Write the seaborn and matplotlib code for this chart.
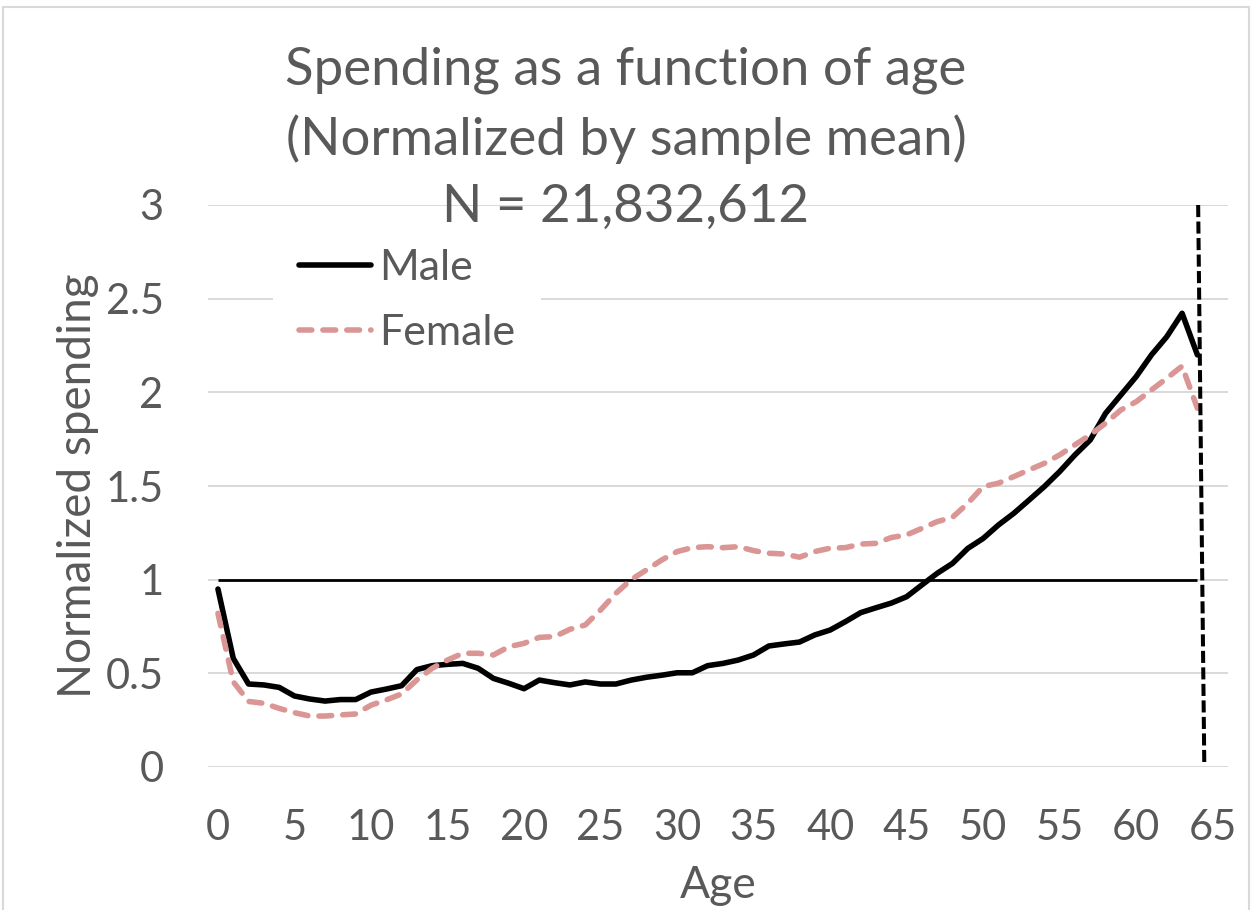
"""
Spending as a function of age, male vs female, normalized by sample mean.
Writes: out.png
"""
import matplotlib.lines as mlines
import matplotlib.pyplot as plt
import pandas as pd
import seaborn as sns
from matplotlib.patches import Rectangle

AGES = list(range(65))
MALE = [0.95, 0.58, 0.443, 0.438, 0.425, 0.379, 0.363, 0.352, 0.36, 0.36,
        0.40, 0.416, 0.434, 0.52, 0.541, 0.548, 0.553, 0.527, 0.473, 0.447,
        0.418, 0.464, 0.45, 0.438, 0.454, 0.443, 0.443, 0.464, 0.479, 0.49,
        0.503, 0.503, 0.541, 0.553, 0.571, 0.598, 0.646, 0.657, 0.667, 0.705,
        0.731, 0.776, 0.824, 0.85, 0.875, 0.909, 0.972, 1.034, 1.087, 1.167,
        1.22, 1.292, 1.354, 1.425, 1.497, 1.577, 1.666, 1.746, 1.888, 1.986,
        2.084, 2.2, 2.297, 2.422, 2.2]
FEMALE = [0.82, 0.455, 0.35, 0.34, 0.313, 0.29, 0.272, 0.272, 0.278, 0.283,
          0.33, 0.358, 0.39, 0.465, 0.527, 0.571, 0.607, 0.607, 0.598, 0.642,
          0.66, 0.692, 0.696, 0.735, 0.758, 0.838, 0.927, 1.0, 1.052, 1.105,
          1.15, 1.171, 1.176, 1.171, 1.176, 1.155, 1.141, 1.137, 1.12, 1.15,
          1.168, 1.171, 1.19, 1.194, 1.225, 1.239, 1.274, 1.31, 1.333, 1.408,
          1.497, 1.515, 1.55, 1.586, 1.621, 1.666, 1.72, 1.773, 1.835, 1.906,
          1.95, 2.013, 2.075, 2.14, 1.915]
X_TICKS = list(range(0, 70, 5))
Y_TICKS = [0, 0.5, 1, 1.5, 2, 2.5, 3]
Y_TICK_LABELS = ["0", "0.5", "1", "1.5", "2", "2.5", "3"]
MEAN_LEVEL = 1.0
CUTOFF_AGE = (64.05, 64.45)   # dashed cut-off line, top / bottom
TITLE_LINES = ["Spending as a function of age",
               "(Normalized by sample mean)",
               "N = 21,832,612"]

TEXT_C = "#595959"
GRID_C = "#D9D9D9"
FEMALE_C = "#DA9694"
LW = 4.0

sns.set_theme(style="white")
plt.rcParams["font.family"] = ["Lato", "DejaVu Sans"]

df = pd.concat([
    pd.DataFrame({"Age": AGES, "Spending": MALE, "Sex": "Male"}),
    pd.DataFrame({"Age": AGES, "Spending": FEMALE, "Sex": "Female"}),
])

W, H = 1252, 910
fig = plt.figure(figsize=(W / 100, H / 100), dpi=100)
ax = fig.add_axes([208 / W, 1 - 767 / H, 1020 / W, 562 / H])

ax.hlines(MEAN_LEVEL, AGES[0], AGES[-1], color="black", lw=2.0, zorder=2)

sns.lineplot(data=df, x="Age", y="Spending", hue="Sex", style="Sex",
             palette={"Male": "black", "Female": FEMALE_C},
             dashes={"Male": "", "Female": (2.3, 2.0)},
             linewidth=LW, legend=False, ax=ax, zorder=3)
for line in ax.get_lines():
    line.set_dash_capstyle("round")
    line.set_solid_joinstyle("round")

ax.plot(CUTOFF_AGE, [3.0, 0.02], color="black", lw=2.9,
        dashes=(3.0, 1.1), zorder=4, clip_on=False)

ax.set_xlim(-0.65, 66.0)
ax.set_ylim(0, 3)
ax.set_xticks(X_TICKS)
ax.set_yticks(Y_TICKS)
ax.set_yticklabels(Y_TICK_LABELS)
ax.yaxis.grid(True, color=GRID_C, lw=1.4)
ax.set_axisbelow(True)
for s in ax.spines.values():
    s.set_visible(False)
ax.tick_params(axis="y", length=0, pad=32, labelsize=30, labelcolor=TEXT_C)
ax.tick_params(axis="x", length=0, pad=30, labelsize=30, labelcolor=TEXT_C)

ax.set_xlabel("Age", fontsize=32, color=TEXT_C, va="center")
ax.xaxis.set_label_coords(0.5, -0.21)
ax.set_ylabel("Normalized spending", fontsize=33, color=TEXT_C, va="center")
ax.yaxis.set_label_coords(-0.1275, 0.5)

male_h = mlines.Line2D([], [], color="black", lw=LW, solid_capstyle="round")
female_h = mlines.Line2D([], [], color=FEMALE_C, lw=LW, dashes=(2.3, 2.0),
                         dash_capstyle="round")
leg = ax.legend([male_h, female_h], ["Male", "Female"], loc="upper left",
                bbox_to_anchor=(0.064, 0.967), borderaxespad=0, fontsize=31,
                frameon=True, facecolor="white", edgecolor="none",
                framealpha=1, handlelength=1.67, handletextpad=0.19,
                labelspacing=0.61, borderpad=0.6, fancybox=False)
for t in leg.get_texts():
    t.set_color(TEXT_C)

for txt, base in zip(TITLE_LINES, [85, 155, 222]):
    fig.text(0.5, 1 - base / H, txt, ha="center", va="baseline",
             fontsize=38, color=TEXT_C)

fig.add_artist(Rectangle((3 / W, -0.01), 1246 / W, 1.01 - 7 / H,
                         transform=fig.transFigure, fill=False,
                         edgecolor=GRID_C, lw=1.5))

fig.savefig("out.png", dpi=100)
plt.close(fig)
